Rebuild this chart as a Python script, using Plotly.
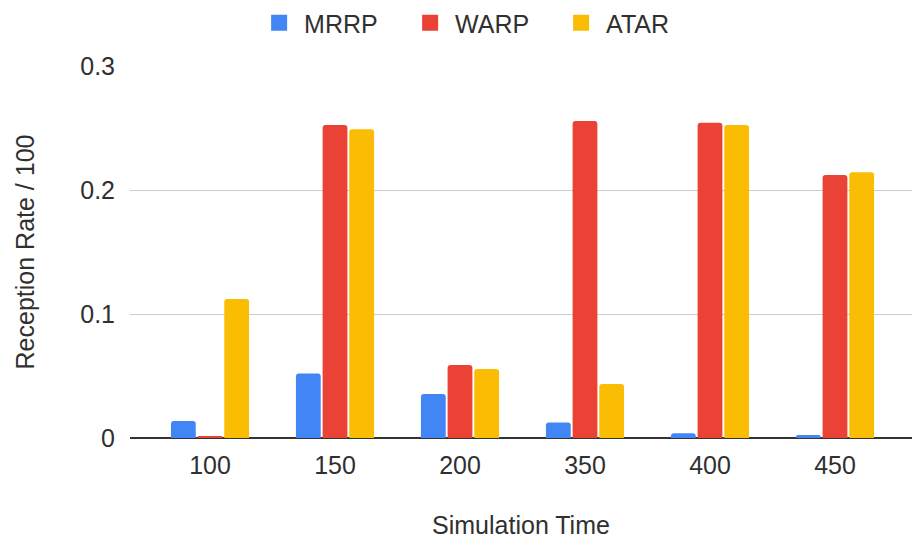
import plotly.graph_objects as go

categories = ["100", "150", "200", "350", "400", "450"]
mrrp = [0.0137, 0.052, 0.0355, 0.0124, 0.0038, 0.0024]
warp = [0.001, 0.2524, 0.0589, 0.2556, 0.2543, 0.212]
atar = [0.112, 0.249, 0.0556, 0.0435, 0.2524, 0.2143]
yticks = [0, 0.1, 0.2, 0.3]
yticklabels = ["0", "0.1", "0.2", "0.3"]

series = [("MRRP", mrrp, "#4285F4"), ("WARP", warp, "#EA4335"), ("ATAR", atar, "#FBBC04")]

FONT = "Liberation Sans, Arial, sans-serif"
TXT = "#303030"
FS = 25

fig = go.Figure()
for name, vals, col in series:
    fig.add_trace(go.Bar(x=categories, y=vals, name=name, legendgroup=name, showlegend=False,
                         marker=dict(color=col, line=dict(width=0))))
for name, vals, col in series:
    fig.add_trace(go.Scatter(x=[None], y=[None], name=name, legendgroup=name, mode="markers",
                             marker=dict(symbol="square", size=16, color=col), showlegend=True))

fig.update_layout(
    width=912, height=539,
    margin=dict(l=130, r=0, t=66, b=101),
    paper_bgcolor="white", plot_bgcolor="white",
    font=dict(family=FONT, size=FS, color=TXT),
    barmode="group", bargap=0.36, bargroupgap=0.07, barcornerradius=3,
    legend=dict(orientation="h", xref="container", yref="container", x=0.527, xanchor="center",
                y=1.0, yanchor="top", font=dict(family=FONT, size=FS, color=TXT),
                itemwidth=40, entrywidth=96, itemsizing="trace", traceorder="normal"),
    xaxis=dict(type="category", range=[-0.64, 5.616], showgrid=False, showline=False,
               ticks="", ticklabelstandoff=10,
               title=dict(text="Simulation Time", standoff=39, font=dict(family=FONT, size=FS, color=TXT)),
               tickfont=dict(family=FONT, size=FS, color=TXT)),
    yaxis=dict(range=[0, 0.3], tickvals=yticks, ticktext=yticklabels, showgrid=True,
               gridcolor="#cccccc", gridwidth=1, zeroline=True, zerolinecolor="#333333",
               zerolinewidth=1.5, showline=False, ticks="", ticklabelstandoff=14,
               title=dict(text="Reception Rate / 100", standoff=38, font=dict(family=FONT, size=FS, color=TXT)),
               tickfont=dict(family=FONT, size=FS, color=TXT)),
)

fig.write_html("out.html", config={"displayModeBar": False},
               post_script="document.body.style.margin='0';")
